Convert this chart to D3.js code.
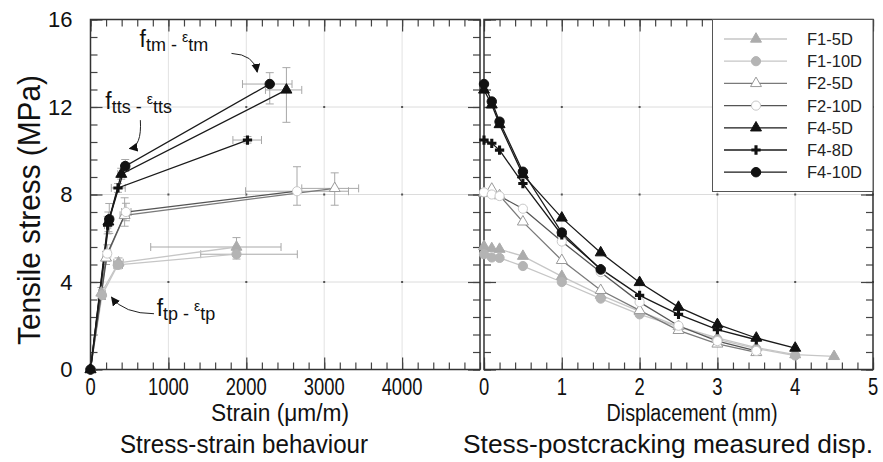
<!DOCTYPE html>
<html>
<head>
<meta charset="utf-8">
<script src="https://cdn.jsdelivr.net/npm/d3@7"></script>
<style>
  body { margin: 0; background: #fff; }
  svg { font-family: "Liberation Sans", Arial, sans-serif; }
</style>
</head>
<body>
<svg id="chart" width="883" height="462"></svg>
<script>
// ---- data ----
const seriesNames = ["F1-5D", "F1-10D", "F2-5D", "F2-10D", "F4-5D", "F4-8D", "F4-10D"];

// stress-strain (origin, ftp, ftts, ftm); strain in µm/m, stress in MPa
const f1_5dStrain = [0, 139, 360, 1874];
const f1_5dStress = [0, 3.5, 4.88, 5.6];
const f1_10dStrain = [0, 148, 350, 1874];
const f1_10dStress = [0, 3.4, 4.78, 5.27];
const f2_5dStrain = [0, 199, 438, 3135];
const f2_5dStress = [0, 5.1, 7.05, 8.28];
const f2_10dStrain = [0, 215, 455, 2651];
const f2_10dStress = [0, 5.3, 7.2, 8.15];
const f4_5dStrain = [0, 230, 395, 2515];
const f4_5dStress = [0, 6.75, 8.93, 12.78];
const f4_8dStrain = [0, 220, 353, 2015];
const f4_8dStress = [0, 6.6, 8.3, 10.49];
const f4_10dStrain = [0, 241, 446, 2301];
const f4_10dStress = [0, 6.87, 9.3, 13.05];

// error bars: [strain low, strain high, stress low, stress high]
const f1_5dErr = [null, [105, 175, 3.25, 3.75], [300, 420, 4.65, 5.1], [773, 2446, 5.45, 6.03]];
const f1_10dErr = [null, [110, 190, 3.2, 3.6], [300, 410, 4.6, 4.95], [1415, 2655, 5.05, 5.5]];
const f2_5dErr = [null, [160, 240, 4.8, 5.4], [380, 500, 6.55, 7.85], [2712, 3442, 7.51, 8.99]];
const f2_10dErr = [null, [170, 260, 5.0, 5.7], [400, 520, 6.8, 7.6], [1990, 3312, 7.51, 9.27]];
const f4_5dErr = [null, [190, 270, 6.3, 7.2], [350, 440, 8.7, 9.2], [2246, 2712, 11.3, 13.8]];
const f4_8dErr = [null, [180, 260, 6.2, 7.0], [267, 446, 8.1, 8.5], [1828, 2195, 10.35, 10.65]];
const f4_10dErr = [null, [200, 290, 6.22, 7.59], [400, 500, 9.05, 9.6], [1951, 2587, 12.14, 13.57]];

// stress vs post-cracking displacement (mm)
const dispSteps = [0, 0.1, 0.2, 0.5, 1, 1.5, 2, 2.5, 3, 3.5, 4, 4.5];
const f1_5dPost = [5.63, 5.53, 5.5, 5.18, 4.26, 3.4, 2.66, 1.97, 1.45, 1.0, 0.68, 0.6];
const f1_10dPost = [5.27, 5.12, 5.1, 4.73, 4.0, 3.24, 2.52, 1.95, 1.38, 0.95, 0.64];
const f2_5dPost = [8.05, 8.25, 7.95, 6.75, 4.99, 3.62, 2.7, 1.79, 1.17, 0.78];
const f2_10dPost = [8.1, 8.0, 7.93, 7.35, 5.85, 4.45, 3.08, 2.0, 1.3, 0.85];
const f4_5dPost = [12.78, 12.1, 11.2, 8.9, 6.93, 5.34, 3.98, 2.85, 2.06, 1.44, 0.98];
const f4_8dPost = [10.49, 10.34, 10.03, 8.5, 6.15, 4.6, 3.39, 2.52, 1.82, 1.36];
const f4_10dPost = [13.05, 12.25, 11.33, 9.04, 6.26, 4.57];

const strainTicks = [0, 1000, 2000, 3000, 4000];
const dispTicks = [0, 1, 2, 3, 4, 5];
const stressTicks = [0, 4, 8, 12, 16];

// ---- layout / style ----
const left = { x0: 90.5, x1: 480 };
const right = { x0: 484, x1: 873 };
const yTop = 19.5, yBot = 369.5;

const styles = {
  "F1-5D":  { line: "#c6c6c6", symbol: d3.symbolTriangle, size: 52, fill: "#acacac", stroke: "#acacac" },
  "F1-10D": { line: "#c6c6c6", symbol: d3.symbolCircle, size: 66, fill: "#b4b4b4", stroke: "#b4b4b4" },
  "F2-5D":  { line: "#7a7a7a", symbol: d3.symbolTriangle, size: 52, fill: "#fff", stroke: "#9a9a9a" },
  "F2-10D": { line: "#555", symbol: d3.symbolCircle, size: 66, fill: "#fff", stroke: "#c8c8c8" },
  "F4-5D":  { line: "#1a1a1a", symbol: d3.symbolTriangle, size: 52, fill: "#111", stroke: "#111" },
  "F4-8D":  { line: "#1a1a1a", symbol: d3.symbolCross, size: 48, fill: "#111", stroke: "none" },
  "F4-10D": { line: "#1a1a1a", symbol: d3.symbolCircle, size: 70, fill: "#111", stroke: "#111" }
};

const zip = (xs, ys) => ys.map((v, i) => [xs[i], v]);
const strainSeries = [
  zip(f1_5dStrain, f1_5dStress), zip(f1_10dStrain, f1_10dStress),
  zip(f2_5dStrain, f2_5dStress), zip(f2_10dStrain, f2_10dStress),
  zip(f4_5dStrain, f4_5dStress), zip(f4_8dStrain, f4_8dStress), zip(f4_10dStrain, f4_10dStress)
];
const errSeries = [f1_5dErr, f1_10dErr, f2_5dErr, f2_10dErr, f4_5dErr, f4_8dErr, f4_10dErr];
const postSeries = [f1_5dPost, f1_10dPost, f2_5dPost, f2_10dPost, f4_5dPost, f4_8dPost, f4_10dPost]
  .map(ys => zip(dispSteps, ys));

const svg = d3.select("#chart");
const xL = d3.scaleLinear().domain([0, 5000]).range([left.x0, left.x1]);
const xR = d3.scaleLinear().domain([0, 5]).range([right.x0, right.x1]);
const y = d3.scaleLinear().domain([0, 16]).range([yBot, yTop]);

const minorY = d3.range(0, 16.01, 0.8);

function drawPanel(x, panel, minorX, majorX, showY) {
  const g = svg.append("g");

  // grid
  g.append("g").selectAll("line").data(stressTicks.slice(1, -1)).join("line")
    .attr("x1", panel.x0).attr("x2", panel.x1)
    .attr("y1", d => y(d)).attr("y2", d => y(d))
    .attr("stroke", "#dcdcdc").attr("stroke-width", 1);
  g.append("g").selectAll("line").data(majorX.slice(1)).join("line")
    .attr("x1", d => x(d)).attr("x2", d => x(d))
    .attr("y1", yTop).attr("y2", yBot)
    .attr("stroke", "#e2e2e2").attr("stroke-width", 1);
  g.append("g").selectAll("rect")
    .data(d3.cross(majorX.slice(1), stressTicks.slice(1, -1))).join("rect")
    .attr("x", d => x(d[0]) - 1).attr("y", d => y(d[1]) - 1)
    .attr("width", 2).attr("height", 2).attr("fill", "#555");

  const tickStyle = sel => {
    sel.select(".domain").remove();
    sel.selectAll(".tick line").attr("stroke", "#444").attr("stroke-width", 1.2);
  };

  // inward ticks on all four sides
  [[d3.axisBottom, yBot], [d3.axisTop, yTop]].forEach(([ax, pos]) => {
    g.append("g").attr("transform", `translate(0,${pos})`)
      .call(ax(x).tickValues(minorX).tickSize(-7).tickSizeOuter(0).tickFormat(""))
      .call(tickStyle);
    g.append("g").attr("transform", `translate(0,${pos})`)
      .call(ax(x).tickValues(majorX).tickSize(-12).tickSizeOuter(0).tickFormat(""))
      .call(tickStyle);
  });
  [[d3.axisLeft, panel.x0], [d3.axisRight, panel.x1]].forEach(([ax, pos]) => {
    g.append("g").attr("transform", `translate(${pos},0)`)
      .call(ax(y).tickValues(minorY).tickSize(-7).tickSizeOuter(0).tickFormat(""))
      .call(tickStyle);
    g.append("g").attr("transform", `translate(${pos},0)`)
      .call(ax(y).tickValues(stressTicks).tickSize(-12).tickSizeOuter(0).tickFormat(""))
      .call(tickStyle);
  });

  // tick labels (narrow, as in the source figure)
  const bx = g.append("g").attr("transform", `translate(0,${yBot})`)
    .call(d3.axisBottom(x).tickValues(majorX).tickSize(0).tickPadding(9).tickFormat(d3.format("d")));
  bx.select(".domain").remove();
  bx.selectAll("text").attr("font-size", 23).attr("fill", "#111")
    .attr("font-family", "Liberation Sans, Arial, sans-serif");
  bx.selectAll(".tick")
    .attr("transform", d => `translate(${x(d)},0) scale(0.8,1)`);

  if (showY) {
    const ly = g.append("g").attr("transform", `translate(${panel.x0},0)`)
      .call(d3.axisLeft(y).tickValues(stressTicks).tickSize(0).tickPadding(18));
    ly.select(".domain").remove();
    ly.selectAll("text").attr("font-size", 22).attr("fill", "#111")
      .attr("font-family", "Liberation Sans, Arial, sans-serif");
  }

  // frame
  g.append("rect").attr("x", panel.x0).attr("y", yTop)
    .attr("width", panel.x1 - panel.x0).attr("height", yBot - yTop)
    .attr("fill", "none").attr("stroke", "#333").attr("stroke-width", 1.5);
  return g;
}

drawPanel(xL, left, d3.range(0, 5001, 200), strainTicks, true);
drawPanel(xR, right, d3.range(0, 5.01, 0.2), dispTicks, false);

const lineL = d3.line().x(d => xL(d[0])).y(d => y(d[1]));
const lineR = d3.line().x(d => xR(d[0])).y(d => y(d[1]));

// error bars (left panel)
const eg = svg.append("g").attr("stroke", "#a8a8a8").attr("stroke-width", 1).attr("fill", "none");
errSeries.forEach((errs, si) => {
  errs.forEach((e, i) => {
    if (!e) return;
    const [sx, sy] = strainSeries[si][i];
    const cx = xL(sx), cy = y(sy);
    const xa = xL(e[0]), xb = xL(e[1]), ya = y(e[2]), yb = y(e[3]);
    const cap = 4;
    eg.append("path").attr("d",
      `M${xa},${cy}H${xb}M${xa},${cy - cap}V${cy + cap}M${xb},${cy - cap}V${cy + cap}` +
      `M${cx},${ya}V${yb}M${cx - cap},${ya}H${cx + cap}M${cx - cap},${yb}H${cx + cap}`);
  });
});

function drawSeries(data, line, x) {
  data.forEach((pts, si) => {
    const st = styles[seriesNames[si]];
    svg.append("path").datum(pts).attr("d", line)
      .attr("fill", "none").attr("stroke", st.line).attr("stroke-width", 1.3);
  });
  data.forEach((pts, si) => {
    const st = styles[seriesNames[si]];
    const sym = d3.symbol().type(st.symbol).size(st.size);
    svg.append("g").selectAll("path").data(pts).join("path")
      .attr("d", sym)
      .attr("transform", d => `translate(${x(d[0])},${y(d[1])})`)
      .attr("fill", st.fill).attr("stroke", st.stroke).attr("stroke-width", 1);
  });
}
drawSeries(strainSeries, lineL, xL);
drawSeries(postSeries, lineR, xR);

// legend
const lg = svg.append("g");
lg.append("rect").attr("x", 712.5).attr("y", yTop).attr("width", right.x1 - 712.5).attr("height", 172)
  .attr("fill", "#fff").attr("stroke", "#555").attr("stroke-width", 1);
seriesNames.forEach((name, i) => {
  const st = styles[name];
  const ry = 39 + i * 22.2;
  lg.append("line").attr("x1", 724).attr("x2", 787).attr("y1", ry).attr("y2", ry)
    .attr("stroke", st.line).attr("stroke-width", 1.3);
  lg.append("path").attr("d", d3.symbol().type(st.symbol).size(st.size)())
    .attr("transform", `translate(756,${ry})`)
    .attr("fill", st.fill).attr("stroke", st.stroke).attr("stroke-width", 1);
  lg.append("text").attr("x", 807).attr("y", ry + 6).attr("font-size", 16.5)
    .attr("fill", "#222").text(name);
});

// annotations (placed in data coordinates of the strain panel)
svg.append("defs").append("marker").attr("id", "arrow")
  .attr("viewBox", "0 0 10 10").attr("refX", 9).attr("refY", 5)
  .attr("markerWidth", 9).attr("markerHeight", 9).attr("markerUnits", "userSpaceOnUse")
  .attr("orient", "auto")
  .append("path").attr("d", "M0,0L10,5L0,10z").attr("fill", "#111");

const notes = [
  { sub: "tm", at: [630, 14.75], arrow: [[1810, 14.45], [2100, 14.4], [2140, 13.6]] },
  { sub: "tts", at: [190, 11.9], arrow: [[640, 11.4], [660, 10.2], [500, 10.1]] },
  { sub: "tp", at: [850, 2.45], arrow: [[815, 2.55], [430, 2.55], [270, 3.3]] }
];
notes.forEach(n => {
  const t = svg.append("text").attr("x", xL(n.at[0])).attr("y", y(n.at[1])).attr("fill", "#111");
  t.append("tspan").attr("font-size", 23).text("f");
  t.append("tspan").attr("font-size", 18).attr("dy", 4).text(n.sub);
  t.append("tspan").attr("font-size", 18).text(" - ");
  t.append("tspan").attr("font-size", 14).attr("dy", -9).text("ε");
  t.append("tspan").attr("font-size", 18).attr("dy", 9).text(n.sub);
  const p = n.arrow.map(d => [xL(d[0]), y(d[1])]);
  svg.append("path")
    .attr("d", `M${p[0][0]},${p[0][1]}Q${p[1][0]},${p[1][1]} ${p[2][0]},${p[2][1]}`)
    .attr("fill", "none").attr("stroke", "#222").attr("stroke-width", 1)
    .attr("marker-end", "url(#arrow)");
});

// axis titles
const narrow = (txt, cx, cy, size, len, rot) => {
  svg.append("text")
    .attr("transform", `translate(${cx},${cy})` + (rot ? ` rotate(${rot})` : ""))
    .attr("text-anchor", "middle").attr("font-size", size).attr("fill", "#111")
    .attr("textLength", len).attr("lengthAdjust", "spacingAndGlyphs")
    .text(txt);
};
narrow("Tensile stress (MPa)", 40, 210, 32, 270, -90);
narrow("Strain (\u03bcm/m)", 280, 421, 23, 138, 0);
narrow("Displacement (mm)", 692, 421, 23, 171, 0);
narrow("Stress-strain behaviour", 244, 453, 26, 248, 0);
narrow("Stess-postcracking measured disp.", 668, 453, 26, 410, 0);
</script>
</body>
</html>
